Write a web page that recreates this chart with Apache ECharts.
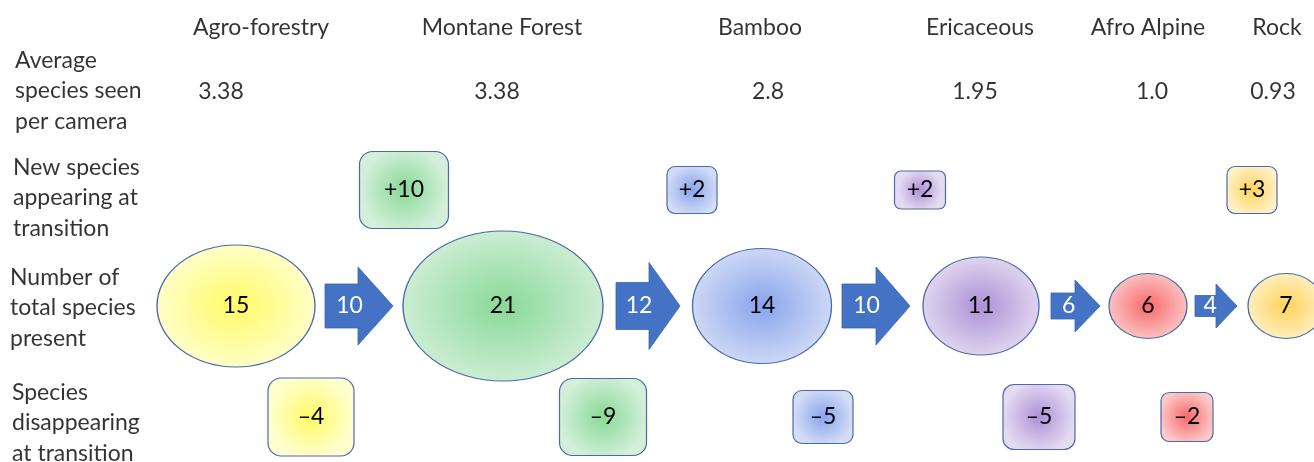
<!DOCTYPE html>
<html>
<head>
<meta charset="utf-8">
<script src="https://cdn.jsdelivr.net/npm/echarts@6/dist/echarts.min.js"></script>
<style>
html,body{margin:0;padding:0;background:#fff;}
#chart{width:1314px;height:462px;}
</style>
</head>
<body>
<div id="chart"></div>
<script>
// ---------------- DATA ----------------
const zones = ['Agro-forestry', 'Montane Forest', 'Bamboo', 'Ericaceous', 'Afro Alpine', 'Rock'];
const avgSpecies = ['3.38', '3.38', '2.8', '1.95', '1.0', '0.93'];
const totalSpecies = [15, 21, 14, 11, 6, 7];
const sharedSpecies = [10, 12, 10, 6, 4];          // species carried across each transition
const newSpecies = [null, 10, 2, 2, null, 3];       // new species appearing at entry to zone
const lostSpecies = [4, 9, 5, 5, 2, null];          // species disappearing on leaving zone
const rowLabels = [
  'Average\nspecies seen\nper camera',
  'New species\nappearing at\ntransition',
  'Number of\ntotal species\npresent',
  'Species\ndisappearing\nat transition'
];

// ---------------- LAYOUT (positions / sizes) ----------------
const W = 1314, H = 462;
const rowY = { header: 28, avg: 92, fresh: 190, total: 306, lost: 417 };
const rowLabelX = [15, 13, 10, 12];
const rowLabelY = [91, 198, 308, 423];
const headerX = [261, 502, 760, 980, 1148, 1277];
const avgX = [221, 497, 768, 975, 1152, 1273];
const ellipseX = [236, 503, 762, 981, 1148, 1286];
const ellipseW = [158, 200, 139, 116, 78, 76];
const ellipseH = [122, 150, 115, 98, 65, 65];
const arrowX0 = [325, 616, 842, 1051, 1195];
const arrowHeadX = [358, 649, 876, 1075, 1216];
const arrowTipX = [393, 680, 910, 1100, 1237];
const arrowBodyH = [44, 47, 44, 26, 21];
const arrowHeadH = [78, 87, 78, 52, 44];
const newX = [null, 404, 692, 920, null, 1252];
const newW = [null, 89, 50, 51, null, 50];
const newH = [null, 77, 47, 38, null, 47];
const lostX = [311, 603, 823, 1039, 1187, null];
const lostW = [86, 87, 60, 72, 52, null];
const lostH = [78, 77, 53, 65, 49, null];

// ---------------- STYLE ----------------
const FONT = 'Lato, "Open Sans", sans-serif';
const FS = 23;
const zoneColors = [
  ['#fffb66', '#ffffd2'],
  ['#88d998', '#d3efd9'],
  ['#88a4ec', '#d4ddf6'],
  ['#ad90d6', '#e4dbf1'],
  ['#f76a6a', '#fccaca'],
  ['#ffd35a', '#fff1c8']
];
const outline = '#4a6aab';
const arrowColor = '#4472c4';
function grad(i) {
  return {
    type: 'radial', x: 0.5, y: 0.5, r: 0.55,
    colorStops: [{ offset: 0, color: zoneColors[i][0] }, { offset: 1, color: zoneColors[i][1] }]
  };
}
const dash = '\u2013';

// ---------------- SERIES ----------------
const textStyle = { fontFamily: FONT, fontSize: FS, color: '#000' };

const headerSeries = {
  type: 'scatter', symbolSize: 0, silent: true,
  data: zones.map((z, i) => ({ value: [headerX[i], rowY.header], name: z })),
  label: { show: true, position: 'inside', formatter: p => p.name, ...textStyle }
};
const avgSeries = {
  type: 'scatter', symbolSize: 0, silent: true,
  data: avgSpecies.map((v, i) => ({ value: [avgX[i], rowY.avg], name: v })),
  label: { show: true, position: 'inside', formatter: p => p.name, ...textStyle }
};
const rowLabelSeries = {
  type: 'scatter', symbolSize: 0, silent: true,
  data: rowLabels.map((t, i) => ({ value: [rowLabelX[i], rowLabelY[i]], name: t })),
  label: { show: true, position: 'inside', align: 'left', verticalAlign: 'middle',
           lineHeight: 30.5, formatter: p => p.name, ...textStyle }
};

const ellipseSeries = {
  type: 'scatter', symbol: 'circle', silent: true,
  data: totalSpecies.map((v, i) => ({
    value: [ellipseX[i], rowY.total, v],
    symbolSize: [ellipseW[i], ellipseH[i]],
    itemStyle: { color: grad(i), borderColor: outline, borderWidth: 1.2, opacity: 1 }
  })),
  label: { show: true, position: 'inside', formatter: p => String(p.value[2]), ...textStyle }
};

const arrowSeries = {
  type: 'custom', silent: true,
  data: sharedSpecies.map((v, i) => [arrowX0[i], rowY.total, arrowHeadX[i], arrowTipX[i], arrowBodyH[i], arrowHeadH[i], v]),
  renderItem: function (params, api) {
    const p0 = api.coord([api.value(0), api.value(1)]);
    const ph = api.coord([api.value(2), api.value(1)]);
    const pt = api.coord([api.value(3), api.value(1)]);
    const bh = api.size([0, api.value(4)])[1] / 2;
    const hh = api.size([0, api.value(5)])[1] / 2;
    const cy = p0[1];
    const pts = [[p0[0], cy - bh], [ph[0], cy - bh], [ph[0], cy - hh], [pt[0], cy],
                 [ph[0], cy + hh], [ph[0], cy + bh], [p0[0], cy + bh]];
    const tx = p0[0] + (pt[0] - p0[0]) * 0.36;
    return {
      type: 'group',
      children: [
        { type: 'polygon', shape: { points: pts }, style: { fill: arrowColor, stroke: '#3b65b0', lineWidth: 0.8 } },
        { type: 'text', style: { text: String(api.value(6)), x: tx, y: cy, align: 'center', verticalAlign: 'middle',
            fill: '#ffffff', font: FS + 'px ' + FONT } }
      ]
    };
  }
};

function boxSeries(values, xs, ws, hs, y, sign) {
  const data = [];
  values.forEach((v, i) => {
    if (v == null) return;
    data.push({ value: [xs[i], y, ws[i], hs[i], v, i] });
  });
  return {
    type: 'custom', silent: true, data: data,
    renderItem: function (params, api) {
      const c = api.coord([api.value(0), api.value(1)]);
      const s = api.size([api.value(2), api.value(3)]);
      const zi = api.value(5);
      const r = Math.min(s[0], s[1]) * 0.17;
      return {
        type: 'group',
        children: [
          { type: 'rect', shape: { x: c[0] - s[0] / 2, y: c[1] - s[1] / 2, width: s[0], height: s[1], r: r },
            style: { fill: grad(zi), stroke: outline, lineWidth: 1.2 } },
          { type: 'text', style: { text: sign + api.value(4), x: c[0], y: c[1], align: 'center', verticalAlign: 'middle',
              fill: '#000', font: FS + 'px ' + FONT } }
        ]
      };
    }
  };
}

const chart = echarts.init(document.getElementById('chart'), null, { renderer: 'canvas' });
chart.setOption({
  animation: false,
  backgroundColor: '#ffffff',
  grid: { left: 0, right: 0, top: 0, bottom: 0 },
  xAxis: { type: 'value', min: 0, max: W, show: false },
  yAxis: { type: 'value', min: 0, max: H, inverse: true, show: false },
  series: [
    ellipseSeries,
    arrowSeries,
    boxSeries(newSpecies, newX, newW, newH, rowY.fresh, '+'),
    boxSeries(lostSpecies, lostX, lostW, lostH, rowY.lost, dash),
    headerSeries,
    avgSeries,
    rowLabelSeries
  ]
});
</script>
</body>
</html>
